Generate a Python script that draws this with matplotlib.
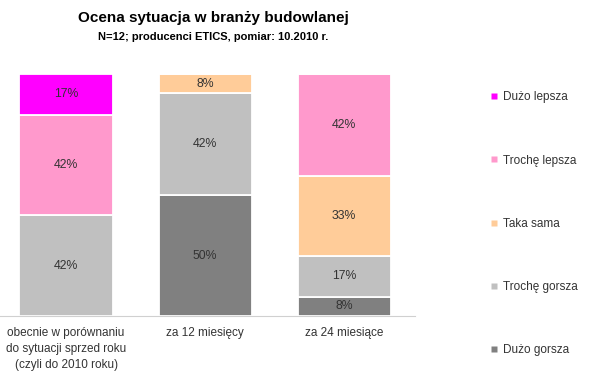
import matplotlib.pyplot as plt
import numpy as np
from matplotlib.lines import Line2D

plt.rcParams['font.family'] = ['Liberation Sans', 'DejaVu Sans']

categories = ['obecnie w porównaniu\ndo sytuacji sprzed roku\n(czyli do 2010 roku)',
              'za 12 miesięcy', 'za 24 miesiące']
series = ['Dużo gorsza', 'Trochę gorsza', 'Taka sama', 'Trochę lepsza', 'Dużo lepsza']
colors = ['#808080', '#c0c0c0', '#ffcc99', '#ff99cc', '#ff00ff']
values = {
    'Dużo gorsza':   [0, 50, 8],
    'Trochę gorsza': [42, 42, 17],
    'Taka sama':     [0, 8, 33],
    'Trochę lepsza': [42, 0, 42],
    'Dużo lepsza':   [17, 0, 0],
}

data = np.array([values[s] for s in series], dtype=float)
totals = data.sum(axis=0)
shares = data / totals

fig = plt.figure(figsize=(6, 3.85), dpi=100)
ax = fig.add_axes([0.0, 0.179, 0.692, 0.629])

x = np.arange(len(categories))
bottom = np.zeros(len(categories))
for i, s in enumerate(series):
    ax.bar(x, shares[i], bottom=bottom, width=0.67, color=colors[i],
           edgecolor='white', linewidth=1.3)
    for j in range(len(categories)):
        if data[i, j] > 0:
            ax.text(x[j], bottom[j] + shares[i, j] / 2, f'{int(data[i, j])}%',
                    ha='center', va='center', fontsize=8.8, color='#333333')
    bottom += shares[i]

ax.set_xlim(-0.475, 2.51)
ax.set_ylim(0, 1)
ax.set_yticks([])
ax.set_xticks(x)
ax.set_xticklabels(categories, fontsize=8.5, color='#333333', linespacing=1.45)
ax.tick_params(axis='x', length=0, pad=8)
for side in ['top', 'right', 'left']:
    ax.spines[side].set_visible(False)
ax.spines['bottom'].set_color('#d0d0d0')

handles = [Line2D([0], [0], marker='s', color='none', markerfacecolor=colors[i],
                  markeredgecolor='none', markersize=5, label=series[i])
           for i in range(len(series) - 1, -1, -1)]
fig.legend(handles=handles, loc='upper left', bbox_to_anchor=(0.8, 0.79),
           frameon=False, fontsize=8.5, labelspacing=4.33, handlelength=0.6,
           handletextpad=0.45, labelcolor='#333333')

fig.text(0.355, 0.953, 'Ocena sytuacja w branży budowlanej', ha='center', va='center',
         fontsize=11, fontweight='bold')
fig.text(0.355, 0.903, 'N=12; producenci ETICS, pomiar: 10.2010 r.', ha='center', va='center',
         fontsize=8, fontweight='bold')

fig.savefig('out.png', dpi=100)
